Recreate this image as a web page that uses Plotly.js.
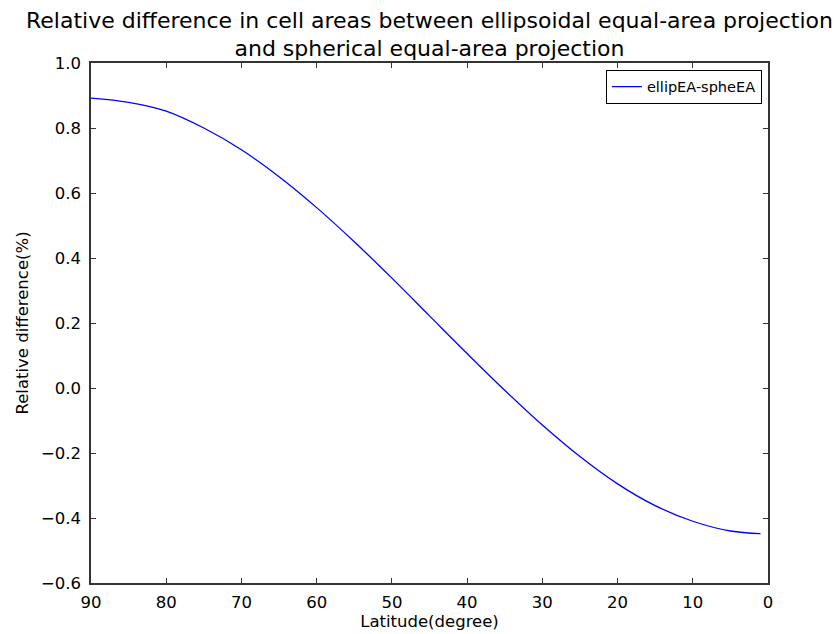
<!DOCTYPE html>
<html>
<head>
<meta charset="utf-8">
<script src="https://cdn.plot.ly/plotly-3.0.1.min.js"></script>
<style>
  html, body { margin: 0; padding: 0; background: #ffffff; }
  #chart { width: 835px; height: 634px; }
</style>
</head>
<body>
<div id="chart"></div>
<script>
// Latitude (degree) and relative difference (%)
const latitude = [90, 85, 80, 75, 70, 65, 60, 55, 50, 45, 40, 35, 30, 25, 20, 15, 10, 5, 1];
const relDiff  = [0.892, 0.879, 0.852, 0.800, 0.733, 0.650, 0.555, 0.450, 0.338, 0.222,
                  0.106, -0.007, -0.114, -0.211, -0.295, -0.362, -0.410, -0.440, -0.448];
const seriesName = 'ellipEA-spheEA';
const xTicks = [90, 80, 70, 60, 50, 40, 30, 20, 10, 0];
const yTicks = [-0.6, -0.4, -0.2, 0.0, 0.2, 0.4, 0.6, 0.8, 1.0];

const FONT = 'DejaVu Sans, Verdana, sans-serif';

const trace = {
  x: latitude,
  y: relDiff,
  type: 'scatter',
  mode: 'lines',
  name: seriesName,
  line: { color: '#0000ff', width: 1.3, shape: 'spline', smoothing: 1.0 },
  showlegend: true
};

const axisCommon = {
  showline: true,
  linecolor: '#333333',
  linewidth: 1.6,
  mirror: 'ticks',
  ticks: 'inside',
  ticklen: 5,
  tickwidth: 1,
  tickcolor: '#333333',
  showgrid: false,
  zeroline: false,
  tickfont: { family: FONT, size: 16.5, color: '#000000' }
};

const layout = {
  width: 835,
  height: 634,
  paper_bgcolor: '#ffffff',
  plot_bgcolor: '#ffffff',
  margin: { l: 91, r: 67, t: 63, b: 51, pad: 0 },
  title: {
    text: 'Relative difference in cell areas between ellipsoidal equal-area projection<br>and spherical equal-area projection',
    font: { family: FONT, size: 22, color: '#000000' },
    xref: 'paper', x: 0.5, xanchor: 'center',
    yref: 'container', y: 0.956, yanchor: 'top'
  },
  xaxis: Object.assign({}, axisCommon, {
    range: [90, 0],
    tickmode: 'array',
    tickvals: xTicks,
    ticktext: xTicks.map(String),
    ticklabelstandoff: 4,
    title: { text: 'Latitude(degree)', font: { family: FONT, size: 16.5, color: '#000000' }, standoff: 4 }
  }),
  yaxis: Object.assign({}, axisCommon, {
    range: [-0.6, 1.0],
    tickmode: 'array',
    tickvals: yTicks,
    tickformat: '.1f',
    ticklabelstandoff: 5,
    title: { text: 'Relative difference(%)', font: { family: FONT, size: 16.5, color: '#000000' }, standoff: 8 }
  }),
  legend: {
    x: 0.991, xanchor: 'right',
    y: 0.987, yanchor: 'top',
    bgcolor: '#ffffff',
    bordercolor: '#000000',
    borderwidth: 1,
    font: { family: FONT, size: 14.5, color: '#000000' },
    itemwidth: 30,
    tracegroupgap: 0
  }
};

Plotly.newPlot('chart', [trace], layout, { displayModeBar: false, staticPlot: true });
</script>
</body>
</html>
